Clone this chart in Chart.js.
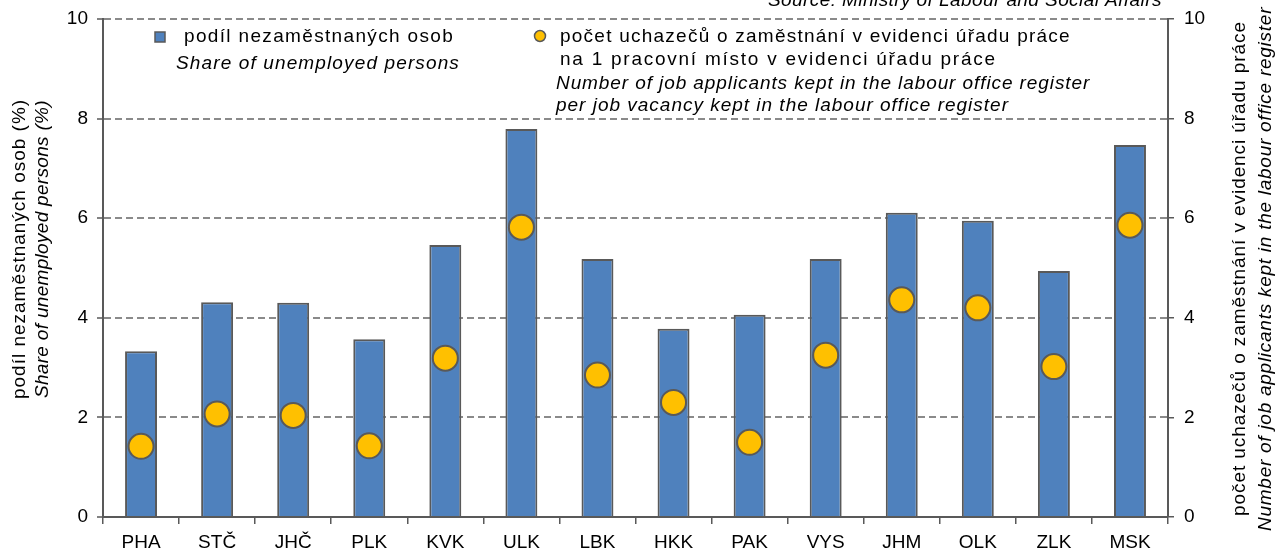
<!DOCTYPE html>
<html>
<head>
<meta charset="utf-8">
<script src="https://cdn.jsdelivr.net/npm/chart.js@4"></script>
<style>
  html, body { margin: 0; padding: 0; background: #fff; }
  #wrap { width: 1279px; height: 554px; }
</style>
</head>
<body>
<div id="wrap"><canvas id="chart" width="1279" height="554"></canvas></div>
<script>
const regions = ['PHA', 'STČ', 'JHČ', 'PLK', 'KVK', 'ULK', 'LBK', 'HKK', 'PAK', 'VYS', 'JHM', 'OLK', 'ZLK', 'MSK'];
const unemployedShare = [3.33, 4.31, 4.30, 3.57, 5.46, 7.79, 5.18, 3.78, 4.06, 5.18, 6.11, 5.95, 4.94, 7.47];
const applicantsPerVacancy = [1.42, 2.07, 2.04, 1.43, 3.19, 5.82, 2.85, 2.30, 1.50, 3.25, 4.36, 4.20, 3.02, 5.86];
const axisTicks = [0, 2, 4, 6, 8, 10];

const FONT = '"Liberation Sans", Arial, sans-serif';
const AXIS = '#595959';
const GRID = '#8a8a8a';

// draws text starting at x and stretched (by letter spacing) to the given width,
// the original was rendered with rather loose spacing
function spacedText(ctx, text, x, y, width) {
  ctx.save();
  ctx.textAlign = 'left';
  const natural = ctx.measureText(text).width;
  if ('letterSpacing' in ctx) {
    ctx.letterSpacing = ((width - natural) / text.length).toFixed(2) + 'px';
    ctx.fillText(text, x, y);
  } else {
    ctx.translate(x, y);
    ctx.scale(width / natural, 1);
    ctx.fillText(text, 0, 0);
  }
  ctx.restore();
}

const textPlugin = {
  id: 'texts',
  afterDraw(chart) {
    const ctx = chart.ctx;
    ctx.save();
    ctx.fillStyle = '#000';

    // source note, cut off at the top edge like in the original
    ctx.font = 'italic 19px ' + FONT;
    ctx.textBaseline = 'alphabetic';
    spacedText(ctx, 'Source: Ministry of Labour and Social Affairs', 768, 6, 394);

    // legend markers
    ctx.textBaseline = 'middle';
    ctx.fillStyle = '#4F81BD';
    ctx.strokeStyle = AXIS;
    ctx.lineWidth = 1.5;
    ctx.fillRect(155, 32, 10, 10);
    ctx.strokeRect(155, 32, 10, 10);
    ctx.beginPath();
    ctx.arc(540, 36, 5.5, 0, Math.PI * 2);
    ctx.fillStyle = '#FFC000';
    ctx.fill();
    ctx.stroke();

    // legend texts
    ctx.fillStyle = '#000';
    ctx.font = '19px ' + FONT;
    spacedText(ctx, 'podíl nezaměstnaných osob', 184, 37, 270);
    spacedText(ctx, 'počet uchazečů o zaměstnání v evidenci úřadu práce', 560, 37, 511);
    spacedText(ctx, 'na 1 pracovní místo v evidenci úřadu práce', 560, 60, 437);
    ctx.font = 'italic 19px ' + FONT;
    spacedText(ctx, 'Share of unemployed persons', 176, 64, 284);
    spacedText(ctx, 'Number of job applicants kept in the labour office register', 556, 84, 534);
    spacedText(ctx, 'per job vacancy kept in the labour office register', 556, 106, 453);

    // axis titles, both read bottom to top
    ctx.save();
    ctx.translate(20, 249);
    ctx.rotate(-Math.PI / 2);
    ctx.font = '19px ' + FONT;
    spacedText(ctx, 'podíl nezaměstnaných osob (%)', -150, 0, 300);
    ctx.font = 'italic 19px ' + FONT;
    spacedText(ctx, 'Share of unemployed persons (%)', -149, 23, 298);
    ctx.restore();

    ctx.save();
    ctx.translate(1240, 268);
    ctx.rotate(-Math.PI / 2);
    ctx.font = '19px ' + FONT;
    spacedText(ctx, 'počet uchazečů o zaměstnání v evidenci úřadu práce', -248, 0, 495);
    ctx.font = 'italic 19px ' + FONT;
    spacedText(ctx, 'Number of job applicants kept in the labour office register', -263, 26, 524);
    ctx.restore();

    ctx.restore();
  }
};

const tickFont = { family: FONT, size: 19 };

function fixY(width) {
  return scale => {
    scale.width = width;
    scale.paddingTop = 0;
    scale.paddingBottom = 0;
  };
}

new Chart(document.getElementById('chart'), {
  type: 'bar',
  data: {
    labels: regions,
    datasets: [
      {
        type: 'line',
        label: 'počet uchazečů',
        data: applicantsPerVacancy,
        yAxisID: 'y2',
        showLine: false,
        pointRadius: 12.5,
        pointBackgroundColor: '#FFC000',
        pointBorderColor: AXIS,
        pointBorderWidth: 2,
        order: 0
      },
      {
        label: 'podíl nezaměstnaných osob',
        data: unemployedShare,
        yAxisID: 'y',
        backgroundColor: '#4F81BD',
        borderColor: AXIS,
        borderWidth: 2,
        borderSkipped: 'bottom',
        categoryPercentage: 1,
        barPercentage: 0.42,
        order: 1
      }
    ]
  },
  plugins: [textPlugin],
  options: {
    responsive: false,
    animation: false,
    layout: { padding: { top: 19, left: 0, right: 0, bottom: 0 } },
    plugins: { legend: { display: false }, tooltip: { enabled: false } },
    scales: {
      x: {
        offset: true,
        grid: { display: true, drawOnChartArea: false, offset: true, color: AXIS, tickLength: 7, lineWidth: 1.5 },
        border: { color: AXIS, width: 2 },
        ticks: { color: '#000', font: tickFont, padding: 7 },
        afterFit(scale) {
          scale.height = 37;
          scale.paddingLeft = 0;
          scale.paddingRight = 0;
        }
      },
      y: {
        position: 'left',
        min: 0,
        max: 10,
        afterBuildTicks(scale) { scale.ticks = axisTicks.map(v => ({ value: v })); },
        grid: {
          color: ctx => (ctx.tick && ctx.tick.value === 0 ? 'rgba(0,0,0,0)' : GRID),
          lineWidth: 2,
          tickColor: AXIS,
          tickLength: 6,
          tickBorderDash: [],
          tickWidth: 1.5
        },
        border: { color: AXIS, width: 2, dash: [7, 4] },
        ticks: { color: '#000', font: tickFont, padding: 9 },
        afterFit: fixY(103)
      },
      y2: {
        position: 'right',
        min: 0,
        max: 10,
        afterBuildTicks(scale) { scale.ticks = axisTicks.map(v => ({ value: v })); },
        grid: { drawOnChartArea: false, color: AXIS, tickLength: 6, lineWidth: 1.5 },
        border: { color: AXIS, width: 2 },
        ticks: { color: '#000', font: tickFont, padding: 10 },
        afterFit: fixY(111)
      }
    }
  }
});
</script>
</body>
</html>
